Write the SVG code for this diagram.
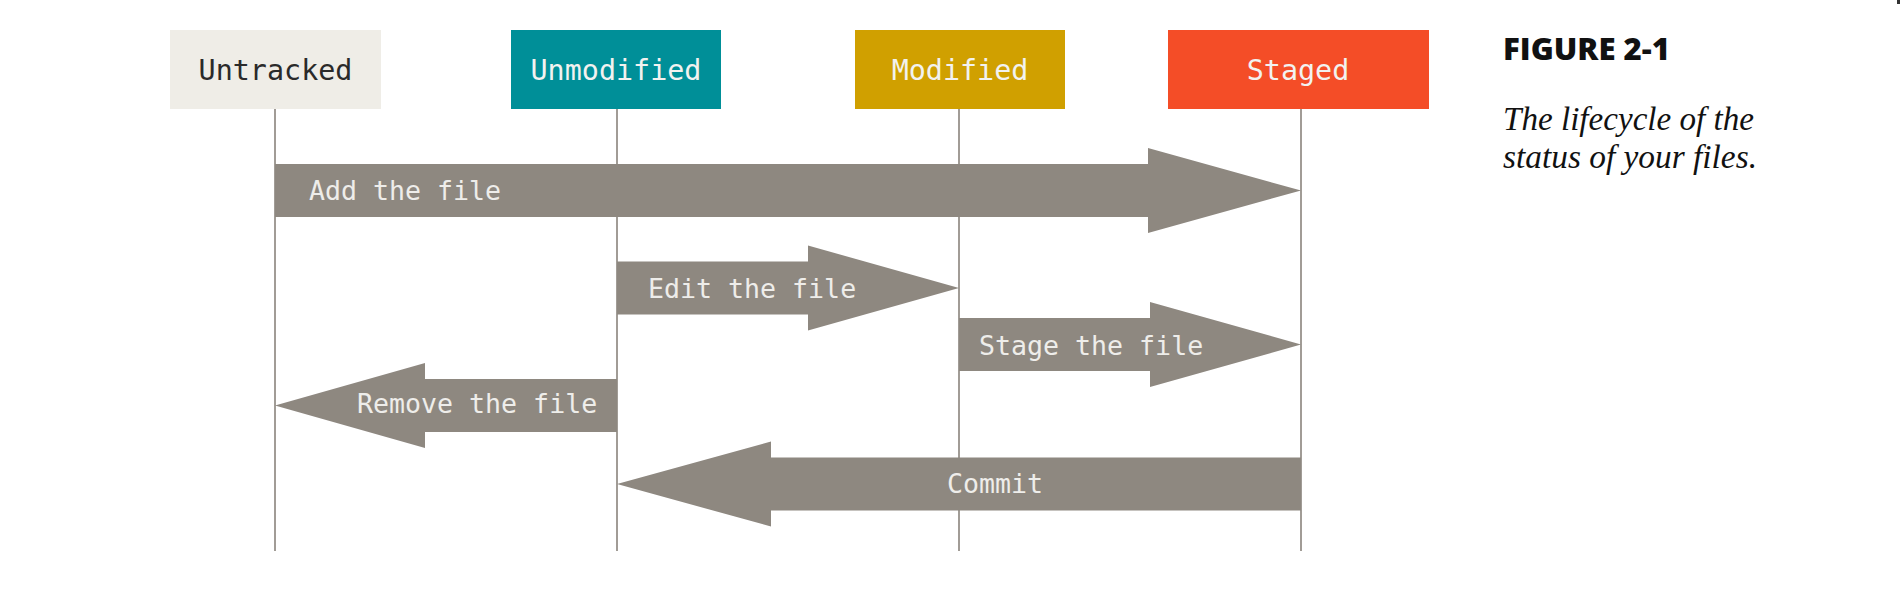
<svg xmlns="http://www.w3.org/2000/svg" width="1902" height="592" viewBox="0 0 1902 592">
<style>
.lane{stroke:#a19c96;stroke-width:2;fill:none}
.arrow{fill:#8e8880}
.alabel{font-family:"DejaVu Sans Mono","Liberation Mono",monospace;font-size:26.6px;fill:#eeedea}
.blabel{font-family:"DejaVu Sans Mono","Liberation Mono",monospace;font-size:28.4px;text-anchor:middle;fill:#f2f2f0}
.fig{font-family:"Open Sans","Noto Sans",sans-serif;font-weight:800;font-size:30px;fill:#111}
.cap{font-family:"Liberation Serif","DejaVu Serif",serif;font-style:italic;font-size:33px;fill:#111}
</style>
<rect width="1902" height="592" fill="#ffffff"/>
<g id="connectors">
<line class="lane" x1="275" y1="109" x2="275" y2="551"/>
<line class="lane" x1="617" y1="109" x2="617" y2="551"/>
<line class="lane" x1="959" y1="109" x2="959" y2="551"/>
<line class="lane" x1="1301" y1="109" x2="1301" y2="551"/>
<g id="add">
<polygon class="arrow" points="275,164 1148,164 1148,148 1301,190.5 1148,233 1148,217 275,217"/>
<text class="alabel" x="309" y="200">Add the file</text>
</g>
<g id="edit">
<polygon class="arrow" points="617,261.5 808,261.5 808,245.5 959,288 808,330.5 808,314.5 617,314.5"/>
<text class="alabel" x="648" y="298">Edit the file</text>
</g>
<g id="stage">
<polygon class="arrow" points="959,318 1150,318 1150,302 1301,344.5 1150,387 1150,371 959,371"/>
<text class="alabel" x="979" y="355">Stage the file</text>
</g>
<g id="remove">
<polygon class="arrow" points="617,379 425,379 425,363 275,405.5 425,448 425,432 617,432"/>
<text class="alabel" x="357" y="413">Remove the file</text>
</g>
<g id="commit">
<polygon class="arrow" points="1301,457.5 771,457.5 771,441.5 617,484 771,526.5 771,510.5 1301,510.5"/>
<text class="alabel" x="947" y="493">Commit</text>
</g>
</g>
<g id="untracked">
<rect x="170" y="30" width="211" height="79" fill="#efede7"/>
<text class="blabel" x="275.5" y="80" style="fill:#2a2a2a">Untracked</text>
</g>
<g id="unmodified">
<rect x="511" y="30" width="210" height="79" fill="#008f98"/>
<text class="blabel" x="616" y="80">Unmodified</text>
</g>
<g id="modified">
<rect x="855" y="30" width="210" height="79" fill="#d0a000"/>
<text class="blabel" x="960" y="80">Modified</text>
</g>
<g id="staged">
<rect x="1168" y="30" width="261" height="79" fill="#f44d27"/>
<text class="blabel" x="1298" y="80">Staged</text>
</g>
<g id="caption">
<text class="fig" x="1503" y="60" textLength="167" lengthAdjust="spacingAndGlyphs">FIGURE 2-1</text>
<text class="cap" x="1503" y="130" textLength="251" lengthAdjust="spacingAndGlyphs">The lifecycle of the</text>
<text class="cap" x="1503" y="168" textLength="254" lengthAdjust="spacingAndGlyphs">status of your files.</text>
</g>
<rect x="1897" y="0" width="3" height="4" fill="#333"/>
</svg>
